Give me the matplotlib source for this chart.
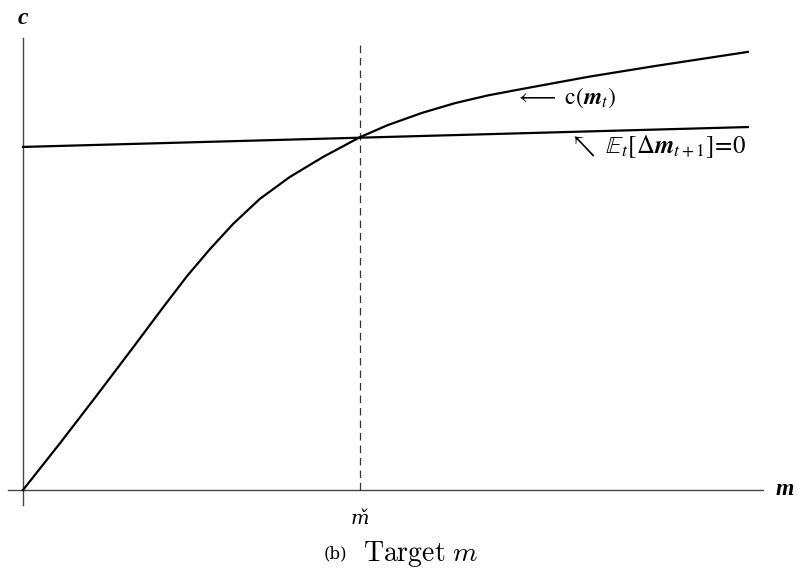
import matplotlib.pyplot as plt

# consumption function c(m) (m scaled so that m-check = 1)
m_vals = [0.0, 0.110, 0.220, 0.332, 0.412, 0.487, 0.555, 0.623, 0.703, 0.792,
          0.890, 1.0, 1.083, 1.184, 1.282, 1.380, 1.481, 1.677, 1.875, 2.151]
c_vals = [0.0, 0.139, 0.282, 0.430, 0.537, 0.635, 0.715, 0.789, 0.864, 0.929,
          0.988, 1.047, 1.083, 1.119, 1.148, 1.171, 1.190, 1.226, 1.258, 1.300]

# E_t[dm_{t+1}] = 0 locus (straight line)
locus_m = [0.0, 2.151]
locus_c = [1.018, 1.077]

m_check = 1.0

plt.rcParams['mathtext.fontset'] = 'stix'
plt.rcParams['font.family'] = ['STIXGeneral', 'Liberation Serif', 'DejaVu Serif']

fig = plt.figure(figsize=(7.99, 5.70), dpi=100)
ax = fig.add_axes([0, 0, 1, 1])
ax.set_xlim(-0.0682, 2.3027)
ax.set_ylim(-0.2374, 1.454)
ax.axis('off')

# axes lines
ax.plot([-0.045, 2.196], [0, 0], color='#444444', lw=1.0)
ax.plot([0, 0], [-0.045, 1.341], color='#444444', lw=1.0)

ax.plot([m_check, m_check], [0, 1.32], color='#333333', lw=0.9,
        dashes=(6, 4))

ax.plot(m_vals, c_vals, color='black', lw=1.6, solid_joinstyle='round')
ax.plot(locus_m, locus_c, color='black', lw=1.6)

ax.text(0.0, 1.40, 'c', fontsize=17, fontstyle='italic', fontweight='bold',
        family='Liberation Serif', ha='center', va='center')
ax.text(2.26, 0.0, 'm', fontsize=17, fontstyle='italic', fontweight='bold',
        family='Liberation Serif', ha='center', va='center')

ax.text(1.46, 1.163, r'$\longleftarrow\ \mathrm{c}(\mathbfit{m}_t)$',
        fontsize=17, ha='left', va='center')
ax.text(1.62, 1.018, r'$\nwarrow\ \mathbb{E}_t[\Delta \mathbfit{m}_{t+1}]\!=\!0$',
        fontsize=18, ha='left', va='center')

ax.text(m_check, -0.085, 'm\u030c', fontsize=14, ha='center',
        va='center', family='DejaVu Serif', fontstyle='italic')
ax.text(0.962, -0.19, '(b)', fontsize=12, ha='right', va='center',
        family='DejaVu Serif')
ax.text(1.01, -0.19, r'$\mathrm{Target}\ m$', fontsize=20, ha='left',
        va='center', math_fontfamily='cm')

fig.savefig('out.png', dpi=100)
